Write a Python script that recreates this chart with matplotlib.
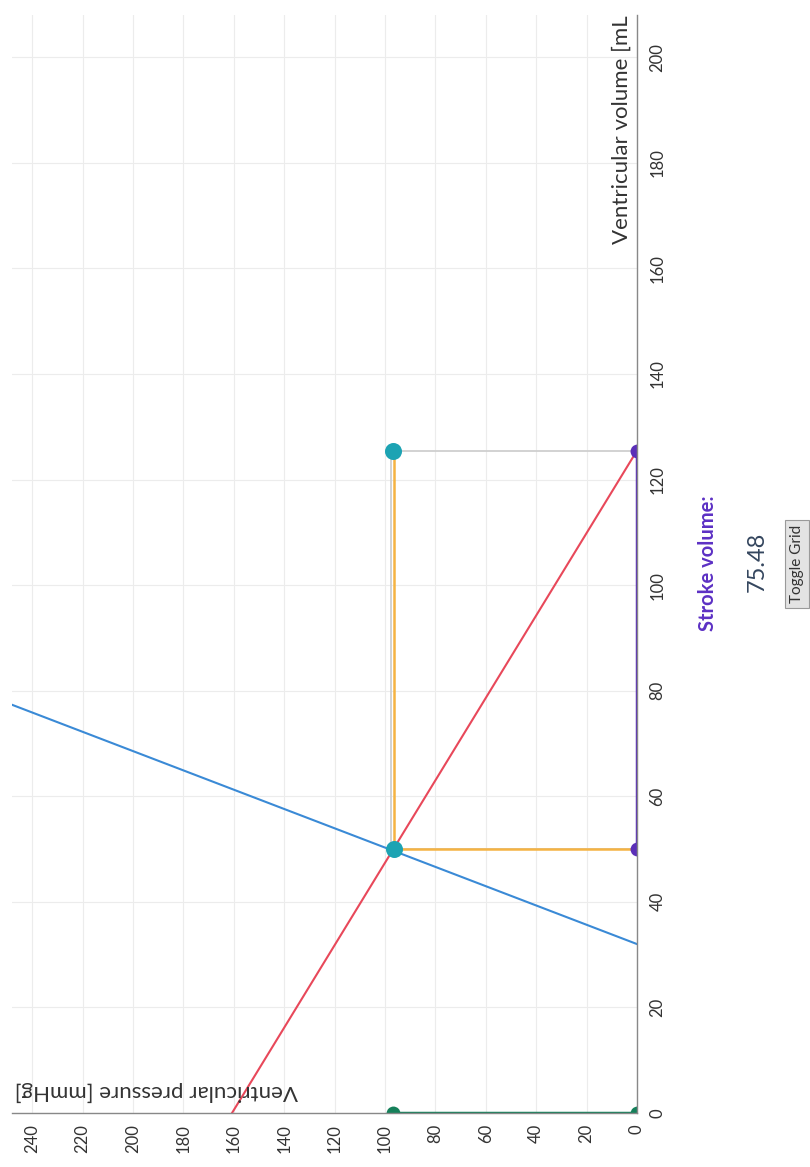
import matplotlib.pyplot as plt

plt.rcParams['font.family'] = ['Lato', 'DejaVu Sans']

# Werte (Druck in mmHg, Volumen in mL)
ticks_p = [0, 20, 40, 60, 80, 100, 120, 140, 160, 180, 200, 220, 240]
ticks_v = [0, 20, 40, 60, 80, 100, 120, 140, 160, 180, 200]

esv = 50.0
edv = 125.48
stroke_volume = 75.48

# Linien: jeweils Druck- und Volumenwerte
rect_p = [0, 97.5, 97.5, 0]
rect_v = [edv, edv, esv, esv]
orange_p = [0, 96.5, 96.5]
orange_v = [esv, esv, edv]
red_p = [160.7, 0]
red_v = [0, edv]
blue_p = [0, 250]
blue_v = [32.0, 77.7]
green_p = [0, 97]
green_v = [0, 0]
purple_p = [0, 0]
purple_v = [esv, edv]
teal_p = [96.5, 97]
teal_v = [esv, edv]

fig = plt.figure(figsize=(8.1, 11.67), dpi=100)
W, H = 810, 1167
ax = fig.add_axes([12 / W, 54 / H, 625 / W, 1098 / H])

# Gedrehte Darstellung: Druck waagrecht (invertiert), Volumen senkrecht
ax.plot(rect_p, rect_v, color="#cfcfcf", lw=1.3, zorder=2)
ax.plot(orange_p, orange_v, color="#f5b342", lw=1.8, zorder=3)
ax.plot(red_p, red_v, color="#e8485a", lw=1.5, zorder=3)
ax.plot(blue_p, blue_v, color="#3a8ad6", lw=1.5, zorder=3)
ax.plot(green_p, green_v, color="#15805a", lw=2.5, zorder=4)
ax.plot(purple_p, purple_v, color="#5b2fb8", lw=2.5, zorder=4)

# Punkte am Rand werden von der Achse abgeschnitten (scatter clippt sauber)
ax.scatter(green_p, green_v, s=100, color="#15805a", zorder=4, linewidths=0)
ax.scatter(purple_p, purple_v, s=100, color="#5b2fb8", zorder=4, linewidths=0)
ax.scatter(teal_p, teal_v, s=150, color="#1ca3b3", zorder=5, linewidths=0)

ax.set_xlim(248, 0)
ax.set_ylim(0, 208)
ax.set_xticks(ticks_p)
ax.set_yticks(ticks_v)
ax.set_xticklabels([str(t) for t in ticks_p], rotation=90, fontsize=12, color="#333333")
ax.set_yticklabels([str(t) for t in ticks_v], rotation=90, fontsize=12, color="#333333", va="center")
ax.yaxis.tick_right()
ax.tick_params(length=0)
ax.tick_params(axis="x", pad=8)
ax.tick_params(axis="y", pad=9)
ax.grid(True, color="#ececec", lw=0.8)
ax.set_axisbelow(True)
for side in ["left", "top"]:
    ax.spines[side].set_visible(False)
for side in ["right", "bottom"]:
    ax.spines[side].set_color("#888888")
    ax.spines[side].set_linewidth(1.0)
    ax.spines[side].set_zorder(6)

# Achsenbeschriftungen
fig.text(622 / W, 1 - 15 / H, "Ventricular volume [mL", rotation=90,
         ha="center", va="top", fontsize=16, color="#333333")
fig.text(15 / W, 1 - 1091 / H, "Ventricular pressure [mmHg]", rotation=180,
         ha="left", va="center", fontsize=16, color="#333333")

# Schlagvolumen-Anzeige
fig.text(708 / W, 1 - 563 / H, "Stroke volume:", rotation=90,
         ha="center", va="center", fontsize=14.5, fontweight="bold", color="#5c30c4")
fig.text(757 / W, 1 - 562 / H, f"{stroke_volume:.2f}", rotation=90,
         ha="center", va="center", fontsize=17, color="#34465e")
fig.text(797 / W, 1 - 564 / H, "Toggle Grid", rotation=90,
         ha="center", va="center", fontsize=11, color="#333333",
         bbox=dict(boxstyle="square,pad=0.3", fc="#e3e3e3", ec="#9a9a9a", lw=0.8))

fig.savefig("out.png", dpi=100)
